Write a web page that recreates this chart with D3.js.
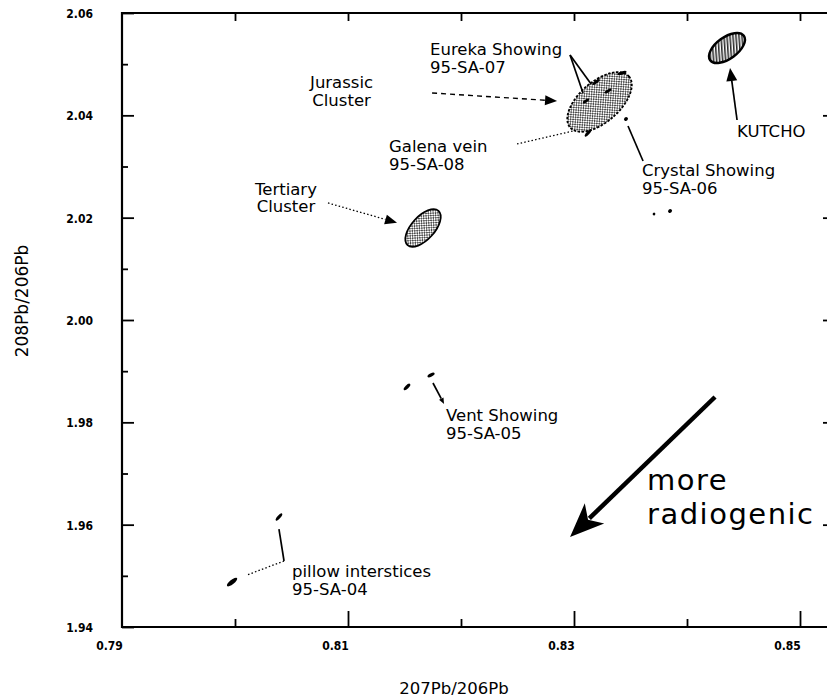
<!DOCTYPE html>
<html><head><meta charset="utf-8">
<script src="https://cdn.jsdelivr.net/npm/d3@7"></script>
<style>
html,body{margin:0;padding:0;background:#fff;}
svg{display:block;}
text{font-family:"DejaVu Sans",sans-serif;fill:#000;}
.tick text{font-family:"Liberation Sans Narrow","DejaVu Sans Condensed","Arial Narrow",sans-serif;font-stretch:condensed;font-weight:bold;font-size:12px;}
</style></head><body>
<svg id="chart" width="827" height="698"></svg>
<script>
// ---------- data ----------
const xDomain = [0.79, 0.85];
const yDomain = [1.94, 2.06];
const xTickValues = [0.79, 0.80, 0.81, 0.82, 0.83, 0.84, 0.85];
const xTickLabels = ["0.79", "", "0.81", "", "0.83", "", "0.85"];
const yTickValues = [1.94, 1.95, 1.96, 1.97, 1.98, 1.99, 2.00, 2.01, 2.02, 2.03, 2.04, 2.05, 2.06];
const yTickLabels = ["1.94", "", "1.96", "", "1.98", "", "2.00", "", "2.02", "", "2.04", "", "2.06"];
const xTitle = "207Pb/206Pb";
const yTitle = "208Pb/206Pb";

// field clusters (ellipses): centre, half major axis in data units, minor/major ratio
const clusterNames = ["Jurassic Cluster", "Tertiary Cluster", "KUTCHO"];
const clusterX = [0.83226, 0.81664, 0.84354];
const clusterY = [2.04261, 2.01798, 2.05316];
const clusterDX = [0.00260, 0.00137, 0.00149];
const clusterDY = [0.00500, 0.00334, 0.00238];
const clusterRatio = [0.52, 0.50, 0.52];
const clusterFill = ["stipple", "stipple", "hatch"];

// individual samples (small error ellipses)
const sampleNames = ["95-SA-04", "95-SA-04", "95-SA-05", "95-SA-05", "95-SA-07", "95-SA-07", "95-SA-07", "95-SA-08", "95-SA-08", "95-SA-06", "95-SA-06", "95-SA-06"];
const sampleX  = [0.79974, 0.80389, 0.81522, 0.81735, 0.83425, 0.83301, 0.83195, 0.83106, 0.83124, 0.83460, 0.83850, 0.83708];
const sampleY  = [1.94879, 1.96150, 1.98691, 1.98925, 2.04827, 2.04476, 2.04651, 2.04280, 2.03655, 2.03928, 2.02130, 2.02072];
const sampleDX = [0.00044, 0.00027, 0.00027, 0.00031, 0.00040, 0.00031, 0.00031, 0.00027, 0.00027, 0.00013, 0.00013, 0.00009];
const sampleDY = [0.00078, 0.00068, 0.00059, 0.00035, 0.00029, 0.00039, 0.00049, 0.00039, 0.00068, 0.00029, 0.00029, 0.00020];
const sampleRatio = [0.35, 0.35, 0.4, 0.4, 0.35, 0.35, 0.35, 0.4, 0.35, 0.9, 0.9, 0.9];

// annotations
const labelLines = [["Eureka Showing", "95-SA-07"], ["Jurassic", "Cluster"], ["Galena vein", "95-SA-08"],
  ["Tertiary", "Cluster"], ["Crystal Showing", "95-SA-06"], ["KUTCHO"], ["Vent Showing", "95-SA-05"],
  ["pillow interstices", "95-SA-04"], ["more", "radiogenic"]];
const labelX = [0.81726, 0.80943, 0.81363, 0.80451, 0.83602, 0.84443, 0.81867, 0.80505, 0.83646];
const labelY = [2.05179, 2.04534, 2.03283, 2.02443, 2.02814, 2.03577, 1.98026, 1.94977, 1.96677];
const labelAnchor = ["start", "middle", "start", "middle", "start", "start", "start", "start", "start"];

// leader lines
const leaderX1 = [0.81744, 0.80823, 0.82496, 0.82965, 0.82965, 0.83478, 0.84443, 0.81752, 0.80389, 0.80434, 0.84248];
const leaderY1 = [2.04437, 2.02287, 2.03440, 2.05179, 2.05179, 2.03792, 2.03909, 1.98769, 1.95915, 1.95290, 1.98495];
const leaderX2 = [0.82850, 0.81434, 0.82991, 0.83080, 0.83151, 0.83611, 0.84381, 0.81850, 0.80434, 0.80106, 0.82965];
const leaderY2 = [2.04280, 2.01900, 2.03694, 2.04437, 2.04612, 2.03108, 2.04925, 1.98358, 1.95290, 1.95016, 1.95759];
const leaderKind = ["dashed", "dotted", "dotted", "solid", "solid", "solid", "solid", "solid", "solid", "dotted", "bold"];
const leaderHead = ["small", "small", "none", "none", "none", "none", "medium", "tiny", "none", "none", "big"];

// ---------- drawing ----------
const svg = d3.select("#chart");
const W = 827, H = 698;
svg.append("rect").attr("width", W).attr("height", H).attr("fill", "#fff");

const mLeft = 122, mTop = 13, mBottom = 627, frameRight = 830;
const x = d3.scaleLinear().domain(xDomain).range([mLeft, 800]);
const y = d3.scaleLinear().domain(yDomain).range([mBottom, mTop]);

// patterns
const defs = svg.append("defs");
const st = defs.append("pattern").attr("id", "stipple").attr("patternUnits", "userSpaceOnUse")
  .attr("width", 3.4).attr("height", 3.4);
st.append("rect").attr("width", 3.4).attr("height", 3.4).attr("fill", "#fff");
st.append("circle").attr("cx", 0.85).attr("cy", 0.85).attr("r", 0.9).attr("fill", "#333");
st.append("circle").attr("cx", 2.55).attr("cy", 2.55).attr("r", 0.9).attr("fill", "#333");
const ht = defs.append("pattern").attr("id", "hatch").attr("patternUnits", "userSpaceOnUse")
  .attr("width", 3.0).attr("height", 10).attr("patternTransform", "rotate(32)");
ht.append("rect").attr("width", 3.0).attr("height", 10).attr("fill", "#fff");
ht.append("line").attr("x1", 0.8).attr("x2", 0.8).attr("y1", 0).attr("y2", 10).attr("stroke", "#111").attr("stroke-width", 1.4);

// axes
const axG = svg.append("g");
const bottomAxis = d3.axisBottom(x).tickValues(xTickValues).tickSizeInner(-16).tickSizeOuter(0).tickPadding(14)
  .tickFormat((d, i) => xTickLabels[i]);
const gb = axG.append("g").attr("transform", `translate(0,${mBottom})`).call(bottomAxis);
gb.select(".domain").remove();
gb.selectAll(".tick line").attr("y2", (d, i) => i === 0 ? 0 : (xTickLabels[i] ? -16 : -8)).attr("stroke-width", 1.8);
gb.selectAll(".tick text").attr("dx", -13);

const topAxis = d3.axisTop(x).tickValues(xTickValues.slice(1)).tickSizeInner(-8).tickSizeOuter(0).tickFormat("");
const gt = axG.append("g").attr("transform", `translate(0,${mTop})`).call(topAxis);
gt.select(".domain").remove();
gt.selectAll(".tick line").attr("stroke-width", 1.8);

const leftAxis = d3.axisLeft(y).tickValues(yTickValues).tickSizeInner(-12).tickSizeOuter(0).tickPadding(29)
  .tickFormat((d, i) => yTickLabels[i]);
const gl = axG.append("g").attr("transform", `translate(${mLeft},0)`).call(leftAxis);
gl.select(".domain").remove();
gl.selectAll(".tick line").attr("x2", (d, i) => yTickLabels[i] ? 12 : 6).attr("stroke-width", 1.8);
gl.selectAll(".tick text").attr("dy", "0.38em");

const rightAxis = d3.axisRight(y).tickValues(yTickValues.filter((d, i) => yTickLabels[i]).slice(1, -1))
  .tickSizeInner(-7).tickSizeOuter(0).tickFormat("");
const gr = axG.append("g").attr("transform", `translate(${frameRight},0)`).call(rightAxis);
gr.select(".domain").remove();
gr.selectAll(".tick line").attr("stroke-width", 1.8);

// frame
axG.append("path")
  .attr("d", `M${mLeft},${mTop}H${frameRight}V${mBottom}H${mLeft}Z`)
  .attr("fill", "none").attr("stroke", "#000").attr("stroke-width", 2.2);

// titles
svg.append("text").attr("x", 454).attr("y", 694).attr("text-anchor", "middle")
  .style("font-size", "16.5px").text(xTitle);
svg.append("text").attr("transform", "translate(28,301) rotate(-90)").attr("text-anchor", "middle")
  .style("font-size", "17px").text(yTitle);

// ellipse helper: from data centre + data half-axis vector
function ellipseGeom(cx, cy, dx, dy, ratio) {
  const px = x(cx), py = y(cy);
  const ex = x(cx + dx) - px, ey = y(cy + dy) - py;
  const a = Math.hypot(ex, ey);
  return { px, py, a, b: a * ratio, ang: Math.atan2(ey, ex) * 180 / Math.PI };
}

const plot = svg.append("g");

// clusters
const clusters = clusterNames.map((n, i) => ({ name: n, g: ellipseGeom(clusterX[i], clusterY[i], clusterDX[i], clusterDY[i], clusterRatio[i]), fill: clusterFill[i], i }));
plot.selectAll("ellipse.cluster").data(clusters).join("ellipse").attr("class", "cluster")
  .attr("rx", d => d.g.a).attr("ry", d => d.g.b)
  .attr("transform", d => `translate(${d.g.px},${d.g.py}) rotate(${d.g.ang})`)
  .attr("fill", d => `url(#${d.fill})`)
  .attr("stroke", "#000")
  .attr("stroke-width", d => d.fill === "hatch" ? 2.4 : 1.8)
  .attr("stroke-dasharray", d => d.i === 0 ? "2.5,1.5" : null);

// samples
const samples = sampleNames.map((n, i) => ({ name: n, g: ellipseGeom(sampleX[i], sampleY[i], sampleDX[i], sampleDY[i], sampleRatio[i]) }));
plot.selectAll("ellipse.sample").data(samples).join("ellipse").attr("class", "sample")
  .attr("rx", d => d.g.a).attr("ry", d => d.g.b)
  .attr("transform", d => `translate(${d.g.px},${d.g.py}) rotate(${d.g.ang})`)
  .attr("fill", "#000");

// leaders
const headSize = { tiny: [6, 2.5, 0], small: [12, 5, 0], medium: [13, 5.5, 0], big: [34, 14, 9] };
const leaders = leaderX1.map((d, i) => ({
  x1: x(leaderX1[i]), y1: y(leaderY1[i]), x2: x(leaderX2[i]), y2: y(leaderY2[i]),
  kind: leaderKind[i], head: leaderHead[i]
}));
leaders.forEach(l => {
  const dx = l.x2 - l.x1, dy = l.y2 - l.y1, L = Math.hypot(dx, dy);
  const ux = dx / L, uy = dy / L, nx = -uy, ny = ux;
  let ex = l.x2, ey = l.y2;
  if (l.head !== "none") {
    const [hl, hw, notch] = headSize[l.head];
    ex = l.x2 - ux * (hl - notch * 0.8); ey = l.y2 - uy * (hl - notch * 0.8);
    const bx = l.x2 - ux * hl, by = l.y2 - uy * hl;
    const pts = [[l.x2, l.y2], [bx + nx * hw, by + ny * hw], [l.x2 - ux * (hl - notch), l.y2 - uy * (hl - notch)], [bx - nx * hw, by - ny * hw]];
    plot.append("polygon").attr("points", pts.map(p => p.join(",")).join(" ")).attr("fill", "#000");
  }
  const line = plot.append("line").attr("x1", l.x1).attr("y1", l.y1).attr("x2", ex).attr("y2", ey)
    .attr("stroke", "#000");
  if (l.kind === "dashed") line.attr("stroke-width", 1.4).attr("stroke-dasharray", "5,4");
  else if (l.kind === "dotted") line.attr("stroke-width", 1.3).attr("stroke-dasharray", "1.5,2.2");
  else if (l.kind === "bold") line.attr("stroke-width", 4.5);
  else line.attr("stroke-width", 1.7);
});

// labels
labelLines.forEach((lines, i) => {
  const big = lines[0] === "more";
  const fs = big ? 29 : 16.5, lh = big ? 34 : 17.5;
  const t = plot.append("text").attr("x", x(labelX[i])).attr("y", y(labelY[i]))
    .attr("text-anchor", labelAnchor[i]).style("font-size", fs + "px")
    .style("letter-spacing", big ? "1.5px" : null);
  lines.forEach((s, k) => t.append("tspan").attr("x", x(labelX[i])).attr("dy", k === 0 ? 0 : lh).text(s));
});
</script>
</body></html>
